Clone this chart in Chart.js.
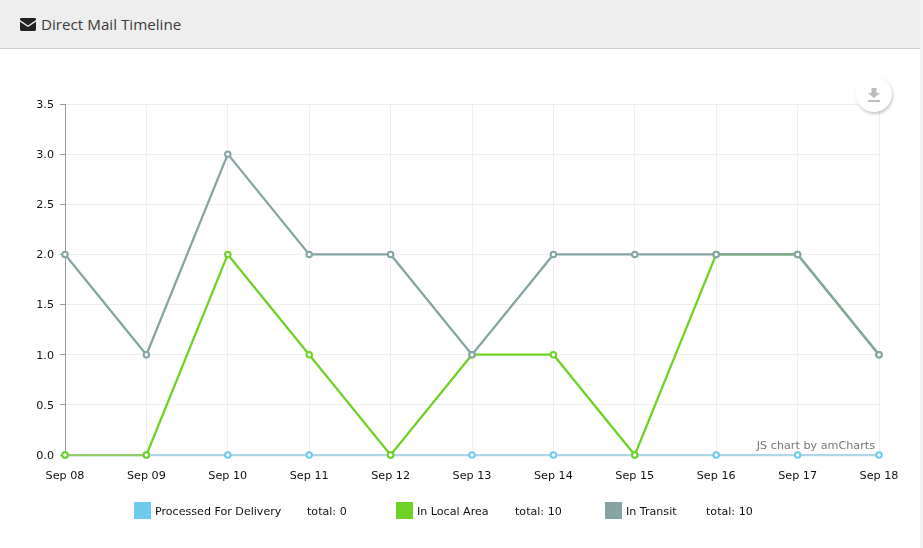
<!DOCTYPE html>
<html>
<head>
<meta charset="utf-8">
<title>Direct Mail Timeline</title>
<script src="https://cdn.jsdelivr.net/npm/chart.js@4"></script>
<style>
    html, body { margin: 0; padding: 0; background: #fff; overflow: hidden; }
    body { width: 923px; height: 548px; position: relative; font-family: "DejaVu Sans", sans-serif; }
    #header {
        position: absolute; left: 0; top: 0; width: 920px; height: 48px;
        background: #eeeeee; border-bottom: 1px solid #d0d0d0;
        font: 15.2px/49px "Open Sans", sans-serif; color: #3a3a3a;
    }
    #header svg { position: absolute; left: 20px; top: 18px; }
    #header span { position: absolute; left: 41px; top: 0; }
    #edge { position: absolute; left: 920px; top: 0; width: 3px; height: 548px; background: #f3f3f3; }
    #chart { position: absolute; left: 0; top: 0; }
    #credit { position: absolute; right: 48px; top: 439px; font-size: 11.2px; color: #777; white-space: nowrap; }
    #download {
        position: absolute; left: 856px; top: 76px; width: 36px; height: 36px; border-radius: 50%;
        background: #fff; box-shadow: 1px 2px 3px rgba(0, 0, 0, 0.22);
    }
    #download svg { position: absolute; left: 12px; top: 12px; }
    .swatch { position: absolute; top: 502px; width: 17px; height: 17px; }
    .label { position: absolute; top: 505px; font-size: 11.1px; line-height: 14px; color: #111; white-space: nowrap; }
</style>
</head>
<body>
<div id="header">
    <svg width="16" height="13" viewBox="0 0 17 14" preserveAspectRatio="none">
        <path fill="#222" d="M1.500 0h14A1.500 1.500 0 0 1 17 1.500v.6L8.500 8 0 2.100v-.6A1.500 1.500 0 0 1 1.500 0zM0 4l8.500 5.800L17 4v8.500a1.500 1.500 0 0 1-1.500 1.500h-14A1.500 1.500 0 0 1 0 12.500z"/>
    </svg>
    <span>Direct Mail Timeline</span>
</div>
<div id="edge"></div>
<canvas id="chart" width="923" height="548"></canvas>
<div id="credit">JS chart by amCharts</div>
<div id="download">
    <svg width="12" height="14" viewBox="0 0 12 14">
        <path fill="#bdbdbd" d="M3.500 0h5v5H12L6 10 0 5h3.500zM0 12h12v2H0z"/>
    </svg>
</div>
<div id="legend"></div>

<script>
const categories = ["Sep 08", "Sep 09", "Sep 10", "Sep 11", "Sep 12", "Sep 13", "Sep 14", "Sep 15", "Sep 16", "Sep 17", "Sep 18"];
const processedForDelivery = [0, 0, 0, 0, 0, 0, 0, 0, 0, 0, 0];
const inLocalArea = [0, 0, 2, 1, 0, 1, 1, 0, 2, 2, 1];
const inTransit = [2, 1, 1, 1, 2, 0, 1, 2, 0, 0, 0];
const seriesNames = ["Processed For Delivery", "In Local Area", "In Transit"];

const BLUE = "#6ecbee";
const GREEN = "#6fd126";
const GREY = "#84a5a3";
const PALE_BLUE = "#afd6e8";
const PALE_GREEN = "#93cc68";
const GRID = "#eeeeee";
const AXIS = "#999999";

// the chart is stacked, but the top series has to paint last, and chart.js
// ties paint order to stack order, so the running totals are added up here
const localStacked = inLocalArea.map((v, i) => v + processedForDelivery[i]);
const transitStacked = inTransit.map((v, i) => v + localStacked[i]);

function makeDataset(label, data, color, paleColor, order) {
    return {
        label: label,
        data: data,
        order: order,
        borderColor: color,
        borderWidth: 2.25,
        backgroundColor: "#ffffff",
        pointBorderColor: color,
        pointBackgroundColor: "#ffffff",
        pointBorderWidth: 2,
        pointRadius: 2.75,
        tension: 0,
        clip: false,
        // lines running along the baseline look washed out in the original
        segment: {
            borderColor: ctx => (ctx.p0.parsed.y === 0 && ctx.p1.parsed.y === 0) ? paleColor : undefined
        }
    };
}

let config = {
    type: "line",
    data: {
        labels: categories,
        datasets: [
            makeDataset(seriesNames[0], processedForDelivery, BLUE, PALE_BLUE, 3),
            makeDataset(seriesNames[1], localStacked, GREEN, PALE_GREEN, 2),
            makeDataset(seriesNames[2], transitStacked, GREY, GREY, 1)
        ]
    },
    options: {
        responsive: false,
        animation: false,
        layout: { padding: { left: 0, right: 44, top: 104, bottom: 63 } },
        plugins: { legend: { display: false }, tooltip: { enabled: false } },
        scales: {
            x: {
                offset: false,
                afterFit: scale => { scale.height = 30; },
                grid: { color: GRID, tickLength: 0 },
                border: { color: GRID },
                ticks: {
                    color: "#111",
                    font: { family: "DejaVu Sans", size: 11.2 },
                    padding: 14,
                    maxRotation: 0,
                    autoSkip: false
                }
            },
            y: {
                min: 0,
                max: 3.5,
                afterFit: scale => { scale.width = 65; },
                grid: { color: GRID, tickColor: AXIS, tickLength: 5 },
                border: { color: AXIS },
                ticks: {
                    stepSize: 0.5,
                    color: "#111",
                    font: { family: "DejaVu Sans", size: 11.2 },
                    padding: 6,
                    labelOffset: 1,
                    callback: v => v.toFixed(1)
                }
            }
        }
    }
};
new Chart(document.getElementById("chart"), config);

// legend is laid out by hand like the original, totals come from the series
const legendItems = [
    { name: seriesNames[0], data: processedForDelivery, color: BLUE, swatch: 134, total: 307 },
    { name: seriesNames[1], data: inLocalArea, color: GREEN, swatch: 396, total: 515 },
    { name: seriesNames[2], data: inTransit, color: GREY, swatch: 605, total: 706 }
];
let legend = document.getElementById("legend");
for (let item of legendItems) {
    let sum = item.data.reduce((c, n) => c + n, 0);
    legend.insertAdjacentHTML("beforeend",
        `<div class="swatch" style="left:${item.swatch}px;background:${item.color}"></div>` +
        `<div class="label" style="left:${item.swatch + 21}px">${item.name}</div>` +
        `<div class="label" style="left:${item.total}px">total: ${sum}</div>`);
}
</script>
</body>
</html>
